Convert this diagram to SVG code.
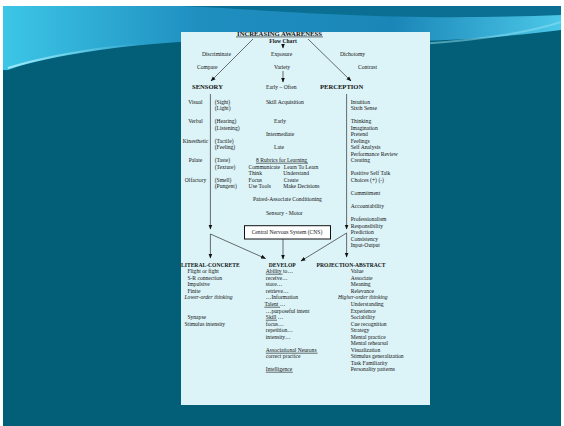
<svg xmlns="http://www.w3.org/2000/svg" width="564" height="426" viewBox="0 0 564 426">
  <defs>
    <linearGradient id="swoosh" x1="0" y1="0" x2="1" y2="0">
      <stop offset="0" stop-color="#3cc6e6"/>
      <stop offset="0.35" stop-color="#1f8fc0"/>
      <stop offset="0.7" stop-color="#1a86b8"/>
      <stop offset="1" stop-color="#4cc8e8"/>
    </linearGradient>
    <linearGradient id="glow" x1="0" y1="0" x2="1" y2="0">
      <stop offset="0" stop-color="#b8f4fb"/>
      <stop offset="1" stop-color="#b8f4fb" stop-opacity="0"/>
    </linearGradient>
    <marker id="ah" viewBox="0 0 10 10" refX="9" refY="5" markerWidth="5" markerHeight="5" orient="auto" markerUnits="userSpaceOnUse">
      <path d="M0,1 L10,5 L0,9 Z" fill="#111"/>
    </marker>
    <style>
      text { font-family: "Liberation Serif", "Times New Roman", serif; fill: #141414; }
      .t { font-size: 5.6px; }
      .b { font-size: 5.6px; font-weight: bold; }
      .h { font-size: 6.6px; font-weight: bold; }
      .i { font-size: 5.6px; font-style: italic; }
      .m { text-anchor: middle; }
      .ln { stroke: #111; stroke-width: 0.6; fill: none; }
      .ul { stroke: #111; stroke-width: 0.6; }
    </style>
  </defs>

  <!-- slide background -->
  <rect x="0" y="0" width="564" height="426" fill="#ffffff"/>
  <rect x="3" y="6" width="558" height="420" fill="#035e78"/>
  <!-- top swoosh -->
  <path d="M3,6 H561 V30 C500,38 420,44 330,40 C250,37 170,40 100,50 C60,56 30,62 8,70 L3,70 Z" fill="url(#swoosh)"/>
  <path d="M180,6 C280,10 380,22 561,15 V6 Z" fill="#0b6f93"/>
  <path d="M8,68 C40,58 80,50 140,44" stroke="url(#glow)" stroke-width="2" fill="none" opacity="0.8"/>
  <path d="M420,44 C480,40 530,32 561,22" stroke="#8fe4f4" stroke-width="2" fill="none" opacity="0.5"/>

  <!-- paper panel -->
  <rect x="181" y="32" width="249" height="373" fill="#dcf3f7"/>

  <!-- connectors -->
  <g id="connectors">
    <line class="ln" x1="283" y1="45" x2="283" y2="48" marker-end="url(#ah)"/>
    <line class="ln" x1="253" y1="39" x2="211" y2="81" marker-end="url(#ah)"/>
    <line class="ln" x1="308" y1="39" x2="351" y2="81" marker-end="url(#ah)"/>
    <line class="ln" x1="283" y1="71" x2="283" y2="82" marker-end="url(#ah)"/>
    <line class="ln" x1="210.4" y1="94" x2="210.4" y2="229" marker-end="url(#ah)"/>
    <line class="ln" x1="346.6" y1="94" x2="346.6" y2="229" marker-end="url(#ah)"/>
    <line class="ln" x1="210.4" y1="234" x2="210.4" y2="258" marker-end="url(#ah)"/>
    <line class="ln" x1="210.4" y1="234" x2="265.5" y2="258.5" marker-end="url(#ah)"/>
    <line class="ln" x1="346.6" y1="233" x2="346.6" y2="257" marker-end="url(#ah)"/>
    <line class="ln" x1="346.6" y1="233" x2="301" y2="261" marker-end="url(#ah)"/>
    <line class="ln" x1="283" y1="239" x2="283" y2="259" stroke-width="1" marker-end="url(#ah)"/>
  </g>

  <!-- header -->
  <g id="title">
    <text class="h m" x="279.5" y="35.6" style="font-size:6.7px">INCREASING AWARENESS</text>
    <line class="ul" x1="236" y1="36.9" x2="323" y2="36.9" stroke-width="0.7"/>
    <text class="b m" x="283" y="43">Flow Chart</text>
  </g>

  <g id="comparisons">
    <text class="t" x="202" y="56">Discriminate</text>
    <text class="t" x="271" y="56">Exposure</text>
    <text class="t" x="340" y="56">Dichotomy</text>
    <text class="t" x="197" y="69">Compare</text>
    <text class="t" x="274" y="69">Variety</text>
    <text class="t" x="358" y="69">Contrast</text>
  </g>

  <g id="sensory">
    <text class="h" x="192" y="89">SENSORY</text>
    <text class="t m" x="195.5" y="104">Visual</text>
    <text class="t" x="214.7" y="104">(Sight)</text>
    <text class="t" x="214.7" y="110">(Light)</text>
    <text class="t m" x="195.5" y="123">Verbal</text>
    <text class="t" x="214.7" y="123">(Hearing)</text>
    <text class="t" x="214.7" y="130">(Listening)</text>
    <text class="t m" x="195.5" y="143">Kinesthetic</text>
    <text class="t" x="214.7" y="143">(Tactile)</text>
    <text class="t" x="214.7" y="149">(Feeling)</text>
    <text class="t m" x="195.5" y="162">Palate</text>
    <text class="t" x="214.7" y="162">(Taste)</text>
    <text class="t" x="214.7" y="169">(Texture)</text>
    <text class="t m" x="195.5" y="182">Olfactory</text>
    <text class="t" x="214.7" y="182">(Smell)</text>
    <text class="t" x="214.7" y="188">(Pungent)</text>
  </g>

  <g id="skills">
    <text class="t" x="266" y="89">Early – Often</text>
    <text class="t" x="266" y="104">Skill Acquisition</text>
    <text class="t" x="274" y="123">Early</text>
    <text class="t" x="266" y="136">Intermediate</text>
    <text class="t" x="274" y="149">Late</text>
    <text class="t" x="256" y="162">8 Rubrics for Learning</text>
    <line class="ul" x1="256" y1="163.2" x2="308" y2="163.2"/>
    <text class="t" x="248.6" y="169">Communicate</text>
    <text class="t" x="283.8" y="169">Learn To Learn</text>
    <text class="t" x="248.6" y="175">Think</text>
    <text class="t" x="283.3" y="175">Understand</text>
    <text class="t" x="248.6" y="182">Focus</text>
    <text class="t" x="283.8" y="182">Create</text>
    <text class="t" x="248.6" y="188">Use Tools</text>
    <text class="t" x="283.3" y="188">Make Decisions</text>
    <text class="t" x="253" y="201">Paired-Associate Conditioning</text>
    <text class="t" x="266" y="215">Sensory - Motor</text>
  </g>

  <g id="cns">
    <rect x="244.5" y="225.7" width="86" height="13.3" fill="#ffffff" stroke="#111" stroke-width="1"/>
    <text class="t m" x="287" y="233.5">Central Nervous System (CNS)</text>
  </g>

  <g id="perception">
    <text class="h" x="320" y="89">PERCEPTION</text>
    <text class="t" x="350.7" y="104">Intuition</text>
    <text class="t" x="350.7" y="110">Sixth Sense</text>
    <text class="t" x="350.7" y="123">Thinking</text>
    <text class="t" x="350.7" y="130">Imagination</text>
    <text class="t" x="350.7" y="136">Pretend</text>
    <text class="t" x="350.7" y="143">Feelings</text>
    <text class="t" x="350.7" y="149">Self Analysis</text>
    <text class="t" x="350.7" y="156">Performance Review</text>
    <text class="t" x="350.7" y="162">Creating</text>
    <text class="t" x="350.7" y="175">Positive Self Talk</text>
    <text class="t" x="350.7" y="182">Choices (+) (-)</text>
    <text class="t" x="350.7" y="195">Commitment</text>
    <text class="t" x="350.7" y="208">Accountability</text>
    <text class="t" x="350.7" y="221">Professionalism</text>
    <text class="t" x="350.7" y="228">Responsibility</text>
    <text class="t" x="350.7" y="234">Prediction</text>
    <text class="t" x="350.7" y="241">Consistency</text>
    <text class="t" x="350.7" y="247">Input-Output</text>
  </g>

  <g id="literal-concrete">
    <text class="b" x="181" y="267">LITERAL-CONCRETE</text>
    <text class="t" x="187.4" y="273">Flight or fight</text>
    <text class="t" x="187.4" y="280">S-R connection</text>
    <text class="t" x="187.4" y="286">Impulsive</text>
    <text class="t" x="187.4" y="293">Finite</text>
    <text class="i" x="184.5" y="299">Lower-order thinking</text>
    <text class="t" x="187.4" y="319">Synapse</text>
    <text class="t" x="184.5" y="326">Stimulus intensity</text>
  </g>

  <g id="develop">
    <text class="b" x="268.7" y="267">DEVELOP</text>
    <text class="t" x="265.8" y="273">Ability to…</text>
    <line class="ul" x1="265.8" y1="274.2" x2="282.5" y2="274.2"/>
    <text class="t" x="265.8" y="280">receive…</text>
    <text class="t" x="265.8" y="286">store…</text>
    <text class="t" x="265.8" y="293">retrieve…</text>
    <text class="t" x="265.8" y="299">…Information</text>
    <text class="t" x="264.4" y="306">Talent …</text>
    <line class="ul" x1="264.4" y1="307.2" x2="280" y2="307.2"/>
    <text class="t" x="265.8" y="313">…purposeful intent</text>
    <text class="t" x="265.8" y="319">Skill …</text>
    <line class="ul" x1="265.8" y1="320.2" x2="277" y2="320.2"/>
    <text class="t" x="265.8" y="326">focus…</text>
    <text class="t" x="265.8" y="332">repetition…</text>
    <text class="t" x="265.8" y="339">intensity…</text>
    <text class="t" x="265.8" y="352">Associational Neurons</text>
    <line class="ul" x1="265.8" y1="353.2" x2="317.6" y2="353.2"/>
    <text class="t" x="265.8" y="358">correct practice</text>
    <text class="t" x="265.8" y="371">Intelligence</text>
    <line class="ul" x1="265.8" y1="372.2" x2="292.8" y2="372.2"/>
  </g>

  <g id="projection-abstract">
    <text class="b" x="316.5" y="267">PROJECTION-ABSTRACT</text>
    <text class="t" x="350.7" y="273">Value</text>
    <text class="t" x="350.7" y="280">Associate</text>
    <text class="t" x="350.7" y="286">Meaning</text>
    <text class="t" x="350.7" y="293">Relevance</text>
    <text class="i" x="338" y="299">Higher-order thinking</text>
    <text class="t" x="350.7" y="306">Understanding</text>
    <text class="t" x="350.7" y="313">Experience</text>
    <text class="t" x="350.7" y="319">Sociability</text>
    <text class="t" x="350.7" y="326">Cue recognition</text>
    <text class="t" x="350.7" y="332">Strategy</text>
    <text class="t" x="350.7" y="339">Mental practice</text>
    <text class="t" x="350.7" y="345">Mental rehearsal</text>
    <text class="t" x="350.7" y="352">Visualization</text>
    <text class="t" x="350.7" y="358">Stimulus generalization</text>
    <text class="t" x="350.7" y="365">Task Familiarity</text>
    <text class="t" x="350.7" y="371">Personality patterns</text>
  </g>
</svg>
